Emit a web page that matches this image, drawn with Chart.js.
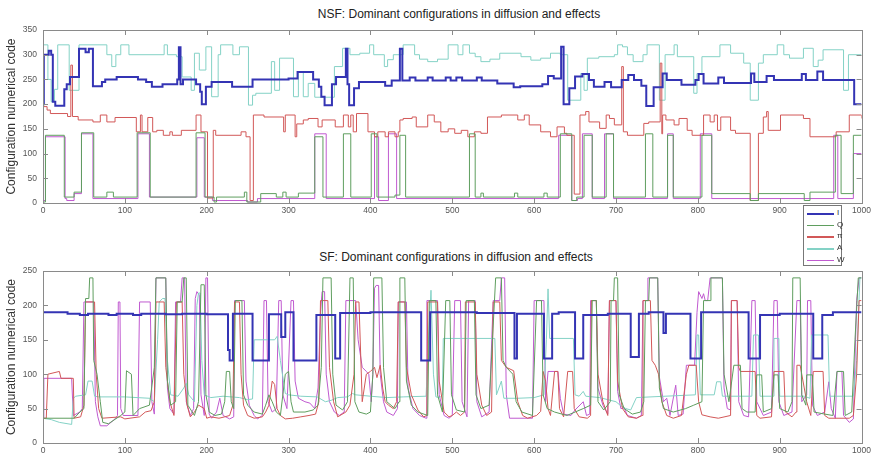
<!doctype html>
<html><head><meta charset="utf-8"><title>Dominant configurations in diffusion and effects</title>
<script src="https://cdn.jsdelivr.net/npm/chart.js@4"></script>
<style>
body{margin:0;background:#fff;font-family:"Liberation Sans",Arial,sans-serif}
#wrap{position:relative;width:874px;height:460px;overflow:hidden}
canvas{position:absolute;left:0}
.ttl{position:absolute;font-size:12px;color:#222;white-space:nowrap;transform:translateX(-50%);line-height:14px}
#legend{position:absolute;left:803px;top:205px;width:39px;height:61px;border:1px solid #777;background:#fff;box-sizing:border-box;z-index:2}
.row{position:absolute;left:3px;width:34px;height:10px}
.row .ln{position:absolute;left:0;top:5px;width:27px;height:1.5px}
.row .lb{position:absolute;left:30px;top:0;font-size:8px;line-height:10px;color:#333}
</style></head>
<body>
<div id="wrap">
  <div class="ttl" style="left:459px;top:7px">NSF: Dominant configurations in diffusion and effects</div>
  <div class="ttl" style="left:456px;top:250px">SF: Dominant configurations in diffusion and effects</div>
  <canvas id="top" width="874" height="230" style="top:0"></canvas>
  <canvas id="bot" width="874" height="230" style="top:230px"></canvas>
  <div id="legend"></div>
</div>
<script>
// series names and colours (MATLAB-ish defaults of the figure)
const names = ['I', 'Q', 'π', 'A', 'W']
const colors = ['#3434b4', '#5f9e5f', '#d25858', '#84d2c6', '#c05ad0']
const xTicks = [0, 100, 200, 300, 400, 500, 600, 700, 800, 900, 1000]
const nsfYTicks = [0, 50, 100, 150, 200, 250, 300, 350]
const sfYTicks = [0, 50, 100, 150, 200, 250]

// NSF panel: [x, value from x on] (step series)
const nsfI = [[0,200],[1,300],[7,308],[10,300],[12,205],[15,197],[26,230],[29,240],[33,255],[44,312],[52,305],[56,312],[61,236],[72,245],[76,250],[90,255],[116,250],[126,245],[133,235],[146,240],[164,250],[166,315],[168,240],[171,250],[187,240],[192,225],[194,200],[199,235],[206,245],[231,235],[256,250],[300,252],[311,265],[330,250],[337,235],[340,215],[344,198],[353,240],[358,255],[370,312],[372,240],[374,198],[380,232],[386,245],[418,237],[426,248],[436,312],[439,248],[448,254],[455,248],[470,254],[476,248],[492,254],[498,248],[505,254],[512,248],[530,254],[536,248],[555,242],[575,234],[583,236],[610,240],[617,257],[624,252],[633,316],[636,200],[643,232],[650,256],[659,261],[667,249],[673,235],[686,245],[694,234],[707,249],[715,259],[722,249],[731,237],[737,196],[746,234],[757,262],[762,249],[780,239],[797,249],[801,261],[807,242],[825,254],[832,243],[865,262],[869,245],[884,257],[893,249],[927,261],[932,249],[946,266],[953,249],[991,200],[1000,200]]
const nsfQ = [[0,2],[3,137],[26,12],[38,22],[47,142],[62,12],[78,22],[86,12],[115,142],[131,12],[187,142],[198,12],[209,2],[212,12],[246,22],[249,2],[266,19],[285,12],[293,22],[297,12],[312,20],[332,134],[342,12],[367,140],[376,12],[401,140],[408,12],[430,16],[436,137],[443,12],[521,140],[528,12],[535,20],[538,12],[576,20],[580,12],[612,20],[616,12],[632,140],[646,5],[652,12],[661,137],[671,12],[688,140],[697,12],[736,140],[745,12],[763,137],[770,12],[805,137],[817,19],[864,5],[874,19],[930,5],[937,22],[968,137],[975,19],[990,137],[1000,137]]
const nsfPi = [[0,195],[5,188],[9,181],[30,175],[34,279],[36,175],[43,168],[61,164],[70,178],[78,164],[88,173],[114,144],[119,178],[121,144],[128,173],[134,144],[139,147],[147,137],[155,144],[158,137],[169,147],[187,178],[193,144],[201,10],[208,147],[211,137],[242,144],[248,134],[253,5],[257,178],[270,174],[294,144],[296,178],[308,134],[310,160],[318,168],[324,171],[336,154],[341,168],[357,154],[367,178],[373,154],[376,178],[379,144],[383,181],[397,144],[405,134],[409,144],[418,134],[422,144],[430,134],[434,144],[436,168],[440,171],[451,174],[456,154],[470,178],[478,164],[486,144],[495,150],[503,141],[511,147],[519,134],[527,144],[535,141],[543,174],[560,178],[580,168],[588,178],[594,158],[608,144],[620,134],[628,154],[637,141],[640,137],[649,18],[656,178],[663,185],[667,164],[680,151],[688,178],[692,171],[698,158],[707,276],[709,144],[714,137],[734,161],[740,164],[754,283],[756,140],[757,178],[761,168],[771,158],[777,171],[787,147],[793,137],[807,178],[815,164],[820,178],[824,147],[828,174],[840,147],[846,141],[864,5],[874,141],[880,174],[884,185],[886,147],[901,178],[929,171],[937,134],[969,144],[985,178],[1000,171]]
const nsfA = [[0,320],[6,250],[10,205],[14,230],[18,320],[32,228],[44,320],[78,300],[84,276],[89,300],[95,320],[105,300],[148,320],[152,300],[163,296],[170,255],[181,228],[185,303],[191,269],[199,316],[206,215],[214,300],[217,320],[232,300],[240,316],[251,198],[256,218],[260,222],[279,286],[283,228],[289,293],[306,215],[312,266],[318,215],[324,242],[332,214],[356,276],[366,313],[375,300],[387,303],[399,320],[404,300],[417,276],[421,290],[428,300],[440,320],[454,300],[460,291],[470,286],[482,291],[495,320],[507,300],[513,320],[521,303],[528,296],[535,286],[546,291],[558,303],[584,296],[596,289],[608,293],[620,303],[632,300],[641,208],[657,262],[661,228],[665,293],[679,296],[698,300],[702,320],[708,316],[714,300],[721,286],[733,300],[738,320],[753,208],[760,300],[771,320],[775,296],[795,222],[799,262],[805,296],[827,320],[840,303],[856,283],[864,208],[874,283],[880,300],[897,320],[905,300],[912,293],[929,313],[941,276],[947,289],[953,310],[978,228],[984,300],[1000,300]]
const nsfW = [[0,5],[3,134],[27,9],[29,5],[38,19],[47,140],[61,9],[116,140],[130,12],[188,132],[197,12],[207,5],[250,2],[262,9],[332,140],[346,9],[405,134],[410,5],[422,140],[432,9],[630,137],[646,5],[653,9],[659,140],[671,9],[686,140],[697,9],[763,140],[770,9],[803,140],[817,9],[966,137],[971,9],[990,100],[1000,100]]

// SF panel: I is a step series, the others are [x, y] vertices
const sfI = [[0,190],[30,188],[45,186],[55,188],[80,186],[90,188],[110,186],[120,188],[150,187],[170,188],[200,187],[226,135],[228,120],[232,188],[256,120],[276,187],[291,154],[296,190],[306,120],[334,186],[357,123],[363,189],[400,190],[462,120],[473,190],[530,189],[576,123],[579,188],[612,123],[622,188],[630,190],[650,123],[660,186],[690,188],[718,125],[728,188],[740,190],[758,160],[761,188],[791,123],[804,190],[830,190],[862,123],[876,186],[900,188],[941,123],[952,186],[965,190],[1000,190]]
const sfQ = [[0,36],[38,36],[45,45],[50,50],[52,210],[56,210],[57,240],[61,240],[62,120],[66,100],[70,60],[73,30],[80,28],[95,40],[100,45],[102,105],[108,100],[110,40],[118,50],[130,55],[136,110],[138,240],[150,240],[152,90],[156,55],[162,60],[164,205],[170,205],[172,240],[175,240],[177,55],[185,40],[190,60],[193,230],[197,230],[199,70],[203,45],[210,40],[218,42],[222,60],[224,104],[228,104],[230,60],[233,50],[235,207],[243,207],[245,70],[250,55],[258,45],[268,42],[272,55],[276,70],[280,60],[285,45],[290,40],[296,100],[300,104],[303,60],[306,45],[320,45],[330,48],[336,55],[340,110],[342,240],[352,240],[354,100],[358,55],[366,48],[372,60],[375,240],[379,240],[381,60],[386,45],[395,42],[400,45],[403,100],[404,240],[414,240],[416,110],[420,60],[430,50],[435,60],[436,240],[442,240],[444,90],[450,55],[458,45],[470,40],[472,207],[480,207],[482,70],[488,45],[492,207],[497,207],[499,70],[505,48],[515,45],[517,207],[527,207],[529,70],[535,50],[545,55],[553,240],[560,240],[562,120],[566,110],[574,100],[578,60],[585,45],[598,40],[603,207],[609,207],[611,70],[616,50],[625,45],[640,40],[650,45],[660,50],[669,55],[671,207],[676,207],[678,60],[685,48],[693,60],[694,207],[697,207],[698,240],[702,240],[704,70],[710,50],[720,42],[730,45],[734,60],[736,207],[740,207],[741,240],[751,240],[753,80],[758,50],[770,45],[785,50],[795,55],[805,60],[807,207],[815,207],[816,240],[830,240],[832,100],[838,60],[844,113],[852,113],[854,50],[860,45],[870,45],[872,99],[878,99],[880,45],[890,50],[893,99],[898,99],[900,50],[910,45],[915,60],[916,240],[925,240],[927,70],[932,55],[933,99],[940,99],[942,45],[955,42],[965,40],[970,104],[978,104],[980,40],[988,45],[992,150],[996,240],[1000,240]]
const sfPi = [[0,36],[4,36],[6,100],[20,104],[22,94],[37,94],[38,36],[46,38],[50,55],[52,205],[63,205],[65,100],[68,50],[72,36],[95,38],[100,35],[118,38],[125,45],[132,47],[136,60],[138,205],[148,205],[150,110],[155,60],[160,40],[163,205],[170,205],[172,100],[176,55],[180,38],[185,45],[190,55],[197,50],[200,36],[205,38],[215,36],[222,38],[228,40],[232,55],[234,205],[240,205],[242,100],[245,55],[250,40],[258,36],[268,38],[272,45],[276,55],[280,90],[283,85],[286,50],[290,40],[296,35],[305,36],[315,38],[325,40],[333,42],[337,60],[339,207],[348,207],[350,110],[355,60],[360,38],[370,45],[375,55],[380,100],[382,205],[386,205],[390,60],[395,100],[400,104],[405,110],[408,95],[412,113],[415,80],[418,60],[422,55],[428,50],[432,60],[434,205],[442,205],[444,110],[450,70],[458,48],[465,38],[469,40],[470,205],[482,205],[484,90],[490,45],[496,38],[500,40],[505,45],[510,40],[515,45],[516,205],[528,205],[530,100],[536,55],[542,40],[548,45],[550,205],[558,205],[560,120],[566,110],[575,105],[580,60],[586,40],[592,36],[603,40],[608,46],[611,104],[614,90],[617,50],[620,40],[625,104],[629,104],[631,50],[636,38],[641,104],[647,104],[649,50],[655,38],[665,36],[669,40],[670,207],[676,207],[678,100],[684,60],[690,40],[692,207],[700,207],[702,90],[708,50],[715,38],[725,36],[732,40],[733,207],[742,207],[744,120],[748,113],[752,100],[756,60],[762,40],[770,36],[780,40],[786,100],[789,113],[798,113],[801,60],[805,41],[815,38],[825,36],[840,40],[841,207],[848,207],[850,110],[852,104],[870,104],[872,40],[876,36],[890,38],[893,104],[905,104],[907,45],[915,38],[920,45],[921,113],[925,113],[930,80],[933,60],[938,40],[941,104],[953,104],[955,40],[960,36],[985,36],[990,40],[994,100],[997,207],[1000,207]]
const sfA = [[0,36],[10,34],[20,30],[35,27],[37,65],[40,68],[52,70],[55,90],[60,90],[63,68],[68,67],[100,67],[130,65],[136,60],[140,150],[142,205],[146,210],[149,210],[152,120],[156,70],[165,68],[172,80],[175,87],[178,70],[185,60],[188,200],[190,218],[192,218],[194,120],[197,70],[205,66],[220,68],[240,66],[250,63],[256,64],[258,150],[283,150],[286,155],[290,120],[296,72],[300,70],[315,68],[335,67],[345,60],[352,62],[360,66],[372,67],[378,72],[382,70],[400,68],[420,66],[440,67],[468,68],[471,150],[474,222],[477,100],[480,67],[485,66],[488,70],[489,152],[552,152],[554,70],[560,90],[563,65],[580,65],[600,66],[612,70],[615,150],[617,224],[619,152],[648,152],[650,70],[655,68],[660,75],[663,68],[680,66],[700,60],[705,55],[712,50],[718,48],[725,66],[760,68],[797,70],[799,157],[801,157],[803,70],[820,70],[823,89],[828,89],[830,68],[866,68],[868,157],[874,157],[876,68],[892,68],[893,152],[899,152],[900,68],[930,68],[937,65],[939,157],[959,157],[961,68],[990,68],[994,120],[998,240],[1000,240]]
const sfW = [[0,36],[1,94],[35,94],[37,40],[45,45],[48,50],[50,205],[62,205],[64,60],[67,38],[70,25],[78,25],[88,35],[91,40],[92,205],[94,205],[95,50],[98,40],[116,40],[118,205],[131,205],[133,60],[136,42],[138,240],[150,240],[152,80],[155,50],[160,42],[162,205],[168,205],[170,240],[173,240],[175,60],[180,40],[184,50],[186,210],[188,220],[191,215],[193,70],[197,40],[199,240],[201,240],[203,42],[206,36],[212,45],[216,65],[220,40],[228,35],[233,38],[234,207],[246,207],[248,90],[252,55],[258,40],[262,35],[268,40],[270,207],[273,207],[275,60],[280,45],[285,50],[288,207],[291,207],[293,70],[298,50],[303,207],[306,207],[308,90],[312,65],[320,60],[326,58],[332,50],[336,80],[339,190],[341,220],[344,220],[346,100],[350,60],[356,45],[362,40],[368,45],[370,207],[382,207],[385,150],[390,110],[395,104],[398,100],[401,60],[403,100],[405,225],[407,229],[410,229],[412,100],[416,60],[420,45],[428,40],[433,50],[434,205],[444,205],[446,80],[452,50],[460,40],[468,36],[469,207],[482,207],[484,70],[490,40],[496,36],[500,40],[503,207],[510,207],[512,60],[518,38],[520,207],[528,207],[530,60],[536,38],[545,45],[550,207],[558,207],[560,240],[564,240],[566,70],[570,36],[598,36],[600,207],[612,207],[614,60],[617,104],[629,104],[632,65],[636,42],[645,40],[650,48],[660,60],[664,40],[668,42],[669,207],[676,207],[678,80],[684,55],[690,42],[692,207],[700,207],[702,75],[706,50],[710,51],[714,40],[725,36],[731,40],[733,207],[738,207],[739,240],[751,240],[753,96],[758,60],[762,65],[766,40],[773,84],[776,40],[782,42],[786,113],[796,113],[799,190],[801,220],[805,210],[807,217],[809,207],[812,207],[815,240],[830,240],[832,80],[836,50],[840,48],[841,207],[848,207],[850,60],[856,40],[862,38],[866,207],[870,207],[872,60],[880,40],[890,45],[893,207],[897,207],[899,60],[905,40],[915,45],[921,207],[925,207],[927,60],[933,70],[934,207],[938,207],[940,55],[946,40],[955,45],[960,89],[963,50],[968,36],[970,104],[976,104],[978,40],[985,30],[990,35],[994,207],[997,240],[1000,240]]

const FONT = '"Liberation Sans", Arial, sans-serif'

// MATLAB-style box with inward ticks on all four sides
const boxPlugin = {
  id: 'box',
  afterDatasetsDraw(chart) {
    const { ctx, chartArea: a, scales } = chart
    ctx.save()
    ctx.strokeStyle = '#8a8a8a'
    ctx.lineWidth = 1
    ctx.strokeRect(Math.round(a.left) + 0.5, Math.round(a.top) + 0.5, Math.round(a.width), Math.round(a.height))
    ctx.beginPath()
    for (const t of scales.x.ticks) {
      const p = Math.round(scales.x.getPixelForValue(t.value)) + 0.5
      ctx.moveTo(p, a.bottom); ctx.lineTo(p, a.bottom - 5)
      ctx.moveTo(p, a.top); ctx.lineTo(p, a.top + 5)
    }
    for (const t of scales.y.ticks) {
      const p = Math.round(scales.y.getPixelForValue(t.value)) + 0.5
      ctx.moveTo(a.left, p); ctx.lineTo(a.left + 5, p)
      ctx.moveTo(a.right, p); ctx.lineTo(a.right - 5, p)
    }
    ctx.stroke()
    ctx.restore()
  }
}

const plain = (v) => String(v)

function makeChart(id, series, steppedAll, yTicks, padTop, xH) {
  const datasets = series.map((s, i) => ({
    label: names[i],
    data: s.map((p) => ({ x: p[0], y: p[1] })),
    borderColor: colors[i],
    borderWidth: i === 0 ? 2 : 1,
    pointRadius: 0,
    tension: 0,
    fill: false,
    stepped: steppedAll || i === 0 ? 'before' : false
  }))
  return new Chart(document.getElementById(id), {
    type: 'line',
    data: { datasets },
    plugins: [boxPlugin],
    options: {
      responsive: false,
      animation: false,
      events: [],
      layout: { padding: { top: padTop, right: 9, left: 0, bottom: 0 } },
      plugins: { legend: { display: false }, tooltip: { enabled: false } },
      scales: {
        x: {
          type: 'linear', min: 0, max: 1000,
          grid: { display: false, drawTicks: false }, border: { display: false },
          afterBuildTicks: (s) => { s.ticks = xTicks.map((v) => ({ value: v })) },
          ticks: { padding: 3, color: '#555', font: { size: 8.5, family: FONT }, maxRotation: 0, autoSkip: false, callback: plain },
          afterFit: (s) => { s.height = xH }
        },
        y: {
          min: 0, max: yTicks[yTicks.length - 1],
          grid: { display: false, drawTicks: false }, border: { display: false },
          afterBuildTicks: (s) => { s.ticks = yTicks.map((v) => ({ value: v })) },
          ticks: { padding: 6, color: '#555', font: { size: 8.5, family: FONT }, autoSkip: false, callback: plain },
          title: { display: true, text: 'Configuration numerical code', color: '#333', font: { size: 12, family: FONT }, padding: { top: 4, bottom: 0 } },
          afterFit: (s) => { s.width = 43 }
        }
      }
    }
  })
}

makeChart('top', [nsfI, nsfQ, nsfPi, nsfA, nsfW], true, nsfYTicks, 30, 27)
makeChart('bot', [sfI, sfQ, sfPi, sfA, sfW], false, sfYTicks, 41, 17)

// legend box (sits between the panels, as in the figure)
const leg = document.getElementById('legend')
names.forEach((n, i) => {
  const row = document.createElement('div')
  row.className = 'row'
  row.style.top = (2 + i * 11.7) + 'px'
  row.innerHTML = '<div class="ln" style="background:' + colors[i] + '"></div><div class="lb">' + n + '</div>'
  leg.appendChild(row)
})
</script>
</body></html>
